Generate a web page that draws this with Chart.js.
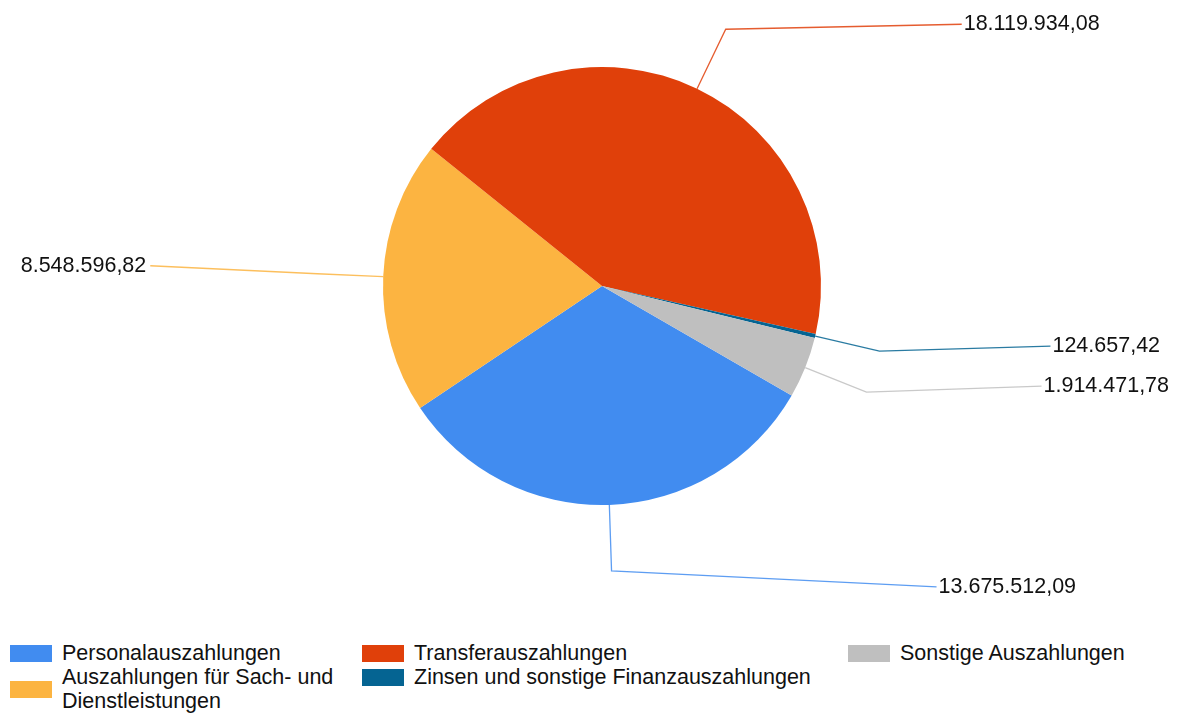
<!DOCTYPE html>
<html>
<head>
<meta charset="utf-8">
<script src="https://cdn.jsdelivr.net/npm/chart.js@4/dist/chart.umd.min.js"></script>
<style>
  html, body { margin: 0; padding: 0; background: #fff; }
  #wrap { position: relative; width: 1179px; height: 715px; overflow: hidden; }
  #c { position: absolute; left: 0; top: 0; }
  .col { position: absolute; top: 641px; }
  .item { display: flex; align-items: center; font-family: "Liberation Sans", Arial, sans-serif; font-size: 21.5px; line-height: 24px; color: #111; }
  .sw { flex: none; width: 42px; height: 17px; margin-right: 10px; }
  .txt { white-space: normal; }
</style>
</head>
<body>
<div id="wrap">
  <canvas id="c" width="1179" height="630"></canvas>
  <div id="legend"></div>
</div>
<script>
const categories = [
  "Personalauszahlungen",
  "Auszahlungen für Sach- und Dienstleistungen",
  "Transferauszahlungen",
  "Zinsen und sonstige Finanzauszahlungen",
  "Sonstige Auszahlungen"
];
const values = [13675512.09, 8548596.82, 18119934.08, 124657.42, 1914471.78];
const colors = ["#418CF0", "#FCB441", "#E0400A", "#056492", "#BFBFBF"];

function fmtDE(v) {
  const parts = v.toFixed(2).split(".");
  const intPart = parts[0].replace(/\B(?=(\d{3})+(?!\d))/g, ".");
  return intPart + "," + parts[1];
}

// label placement (offset of label end from the elbow point), per slice
const labelOffsets = [[325, 16], [-167, -8], [236, -5], [171, -5], [175, -6]];
const elbowLen = 66;

const leaderPlugin = {
  id: "leaders",
  afterDatasetsDraw(chart) {
    const ctx = chart.ctx;
    const meta = chart.getDatasetMeta(0);
    ctx.save();
    ctx.font = '21.5px "Liberation Sans", Arial, sans-serif';
    ctx.textBaseline = "middle";
    meta.data.forEach((arc, i) => {
      const p = arc.getProps(["x", "y", "startAngle", "endAngle", "outerRadius"], true);
      const mid = (p.startAngle + p.endAngle) / 2;
      const cx = Math.cos(mid), cy = Math.sin(mid);
      const ax = p.x + p.outerRadius * cx, ay = p.y + p.outerRadius * cy;
      const ex = ax + elbowLen * cx, ey = ay + elbowLen * cy;
      const off = labelOffsets[i];
      const tx = ex + off[0], ty = ey + off[1];
      ctx.strokeStyle = colors[i];
      ctx.globalAlpha = 0.85;
      ctx.lineWidth = 1.3;
      ctx.beginPath();
      ctx.moveTo(ax, ay);
      ctx.lineTo(ex, ey);
      ctx.lineTo(tx, ty);
      ctx.stroke();
      ctx.globalAlpha = 1;
      ctx.fillStyle = "#111";
      const label = fmtDE(values[i]);
      if (off[0] >= 0) {
        ctx.textAlign = "left";
        ctx.fillText(label, tx + 2, ty);
      } else {
        ctx.textAlign = "right";
        ctx.fillText(label, tx - 4, ty);
      }
    });
    ctx.restore();
  }
};

new Chart(document.getElementById("c"), {
  type: "pie",
  data: {
    labels: categories,
    datasets: [{
      data: values,
      backgroundColor: colors,
      borderWidth: 0,
      hoverOffset: 0
    }]
  },
  options: {
    responsive: false,
    animation: false,
    rotation: 120,
    layout: { padding: { top: 67, bottom: 125, left: 125, right: 100 } },
    plugins: {
      legend: { display: false },
      tooltip: { enabled: false }
    }
  },
  plugins: [leaderPlugin]
});

// legend laid out column by column, two rows
const legendCols = [[0, 1], [2, 3], [4]];
const colLeft = [10, 362, 848];
const colTextWidth = [290, 440, 320];
const legend = document.getElementById("legend");
legendCols.forEach((idxs, c) => {
  const col = document.createElement("div");
  col.className = "col";
  col.style.left = colLeft[c] + "px";
  idxs.forEach(i => {
    const it = document.createElement("div");
    it.className = "item";
    const sw = document.createElement("div");
    sw.className = "sw";
    sw.style.background = colors[i];
    const tx = document.createElement("div");
    tx.className = "txt";
    tx.style.maxWidth = colTextWidth[c] + "px";
    tx.textContent = categories[i];
    it.appendChild(sw);
    it.appendChild(tx);
    col.appendChild(it);
  });
  legend.appendChild(col);
});
</script>
</body>
</html>
